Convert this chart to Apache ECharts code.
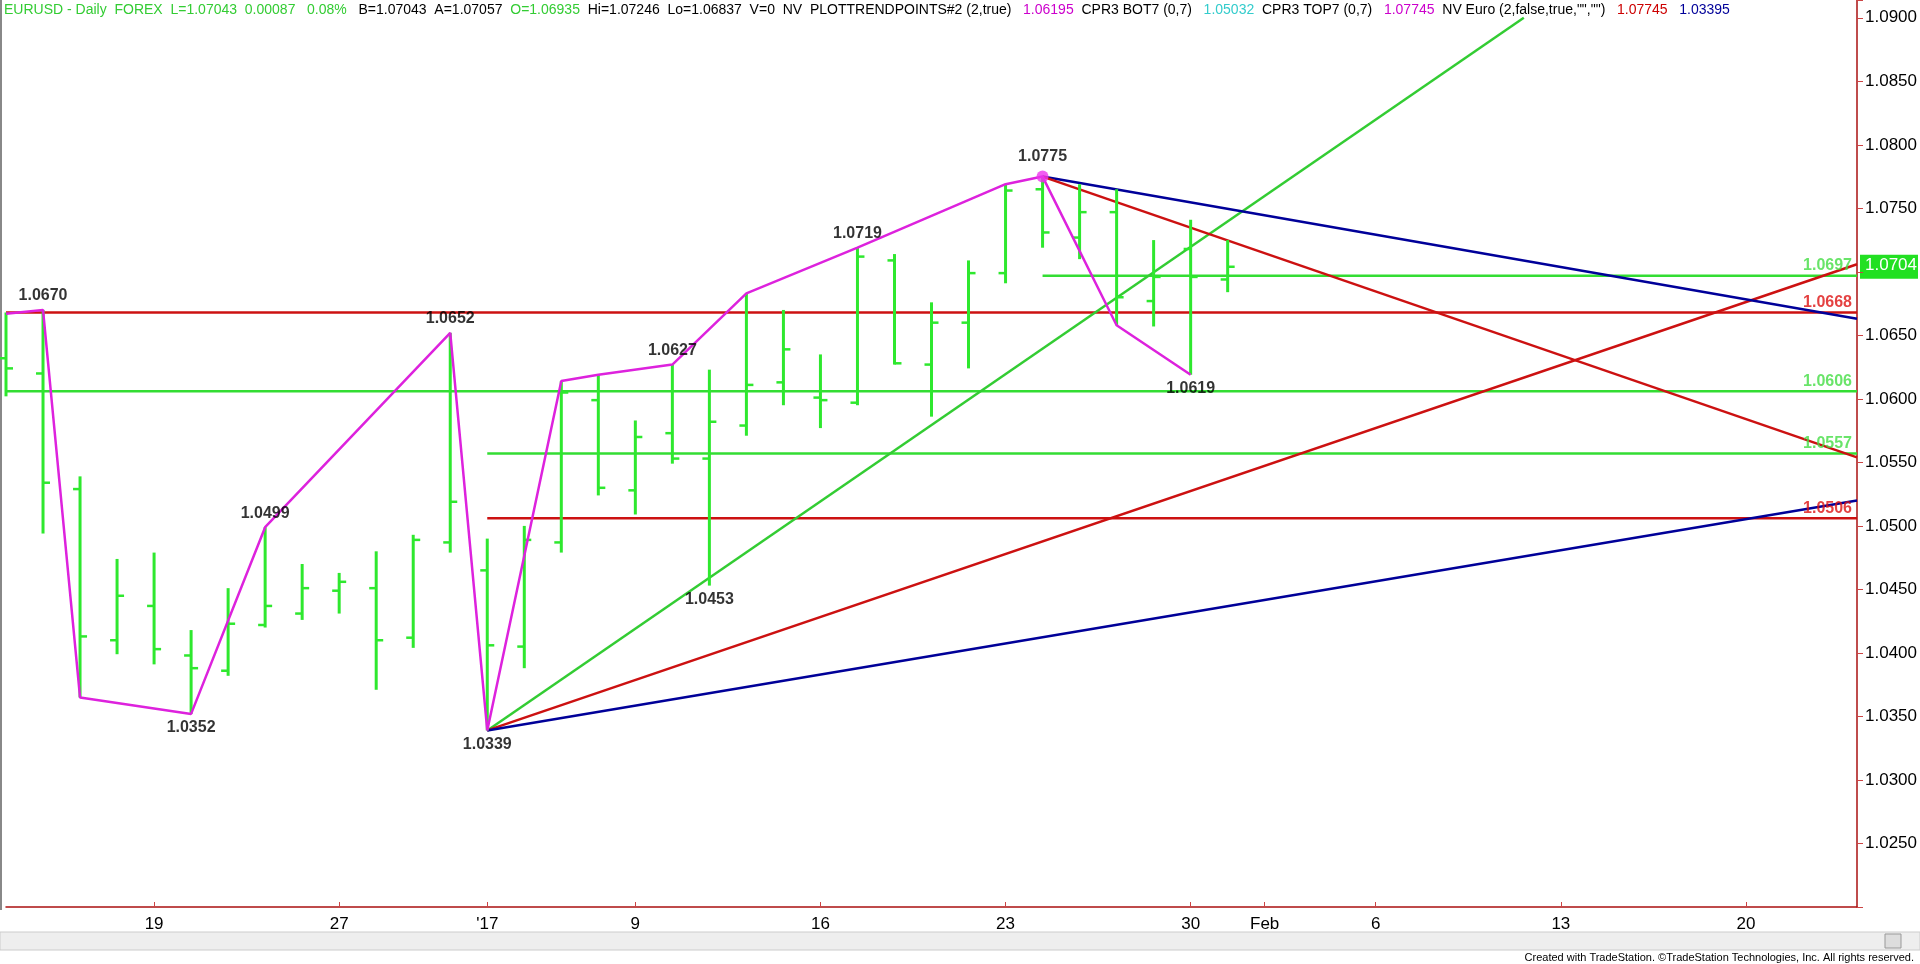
<!DOCTYPE html>
<html><head><meta charset="utf-8">
<script src="https://cdn.jsdelivr.net/npm/echarts@6/dist/echarts.min.js"></script>
<style>html,body{margin:0;padding:0;background:#fff}#c{width:1920px;height:964px}</style>
</head><body><div id="c"></div>
<script>
const dates = ['Dec 13','Dec 14','Dec 15','Dec 16','19','Dec 20','Dec 21','Dec 22','Dec 23','27','Dec 28','Dec 29','Dec 30',"'17",'Jan 4','Jan 5','Jan 6','9','Jan 10','Jan 11','Jan 12','Jan 13','16','Jan 17','Jan 18','Jan 19','Jan 20','23','Jan 24','Jan 25','Jan 26','Jan 27','30','Jan 31','Feb','Feb 2','Feb 3','6','Feb 7','Feb 8','Feb 9','Feb 10','13','Feb 14','Feb 15','Feb 16','Feb 17','20','Feb 21','Feb 22','Feb 23'];
const tickIdx = [4,9,13,17,22,27,32,34,37,42,47];
const opens  = [1.0632,1.0620,1.0529,1.0410,1.0437,1.0398,1.0386,1.0422,1.0431,1.0449,1.0451,1.0412,1.0487,1.0465,1.0405,1.0487,1.0599,1.0528,1.0573,1.0553,1.0579,1.0613,1.0601,1.0597,1.0709,1.0627,1.0660,1.0699,1.0765,1.0727,1.0747,1.0677,1.0718,1.0694];
const highs  = [1.0668,1.0670,1.0539,1.0474,1.0479,1.0418,1.0451,1.0499,1.0470,1.0463,1.0480,1.0493,1.0652,1.0490,1.0500,1.0614,1.0619,1.0583,1.0627,1.0623,1.0683,1.0670,1.0635,1.0719,1.0714,1.0676,1.0709,1.0769,1.0775,1.0769,1.0765,1.0725,1.0741,1.0725];
const lows   = [1.0602,1.0494,1.0365,1.0399,1.0391,1.0352,1.0382,1.0420,1.0426,1.0431,1.0371,1.0404,1.0479,1.0339,1.0388,1.0479,1.0524,1.0509,1.0549,1.0453,1.0571,1.0595,1.0577,1.0595,1.0627,1.0586,1.0624,1.0691,1.0719,1.0710,1.0658,1.0657,1.0619,1.0684];
const closes = [1.0624,1.0534,1.0413,1.0445,1.0403,1.0388,1.0423,1.0437,1.0451,1.0456,1.0410,1.0489,1.0519,1.0406,1.0489,1.0605,1.0530,1.0570,1.0553,1.0582,1.0611,1.0639,1.0599,1.0712,1.0628,1.0660,1.0699,1.0764,1.0731,1.0747,1.0680,1.0696,1.0696,1.0704];
const zigIdx = [0,1,2,5,7,12,13,15,16,18,20,23,27,28,30,32];
const zigVal = [1.0667,1.0670,1.0365,1.0352,1.0499,1.0652,1.0339,1.0614,1.0619,1.0627,1.0683,1.0719,1.0769,1.0775,1.0658,1.0619];
const pivotIdx = [1,5,7,12,13,18,19,23,28,32];
const pivotVal = [1.0670,1.0352,1.0499,1.0652,1.0339,1.0627,1.0453,1.0719,1.0775,1.0619];
const pivotUp  = [true,false,true,true,false,true,false,true,true,false];
const levelVal = [1.0697,1.0668,1.0606,1.0557,1.0506];
const levelStart=[28,0,0,13,13];
const levelColor=['#33dd33','#cc1111','#33dd33','#33dd33','#cc1111'];
const trendFrom=[[13,1.0339],[13,1.0339],[13,1.0339],[28,1.0775],[28,1.0775]];
const trendTo  =[[41,1.0900],[50,1.0706],[50,1.0520],[50,1.0663],[50,1.0554]];
const trendColor=['#33cc33','#cc1111','#000099','#000099','#cc1111'];
const lastPrice = 1.0704;
const endIdx = 50;

const GREEN='#2ee82e';
const ohlc = opens.map((o,i)=>[i,o,highs[i],lows[i],closes[i]]);
const series=[];
levelVal.forEach((v,k)=>series.push({type:'line',silent:true,symbol:'none',z:2,
  lineStyle:{color:levelColor[k],width:2.5},
  data:[[levelStart[k],v],[endIdx,v]]}));
series.push({type:'scatter',silent:true,z:8,symbolSize:0,
  data:levelVal.map((v,k)=>({value:[endIdx,v],label:{show:true,position:'left',align:'right',offset:[0,-10],
    formatter:v.toFixed(4),color:k===1||k===4?'#dd1111':'#44dd44',fontWeight:'bold',fontSize:16,fontFamily:'Liberation Sans'}}))});
trendFrom.forEach((f,k)=>series.push({type:'line',silent:true,symbol:'none',z:3,
  lineStyle:{color:trendColor[k],width:2.5},data:[f,trendTo[k]]}));
series.push({type:'custom',z:5,data:ohlc,renderItem:(p,api)=>{
  const x=api.coord([api.value(0),0])[0];
  const yo=api.coord([0,api.value(1)])[1],yh=api.coord([0,api.value(2)])[1],
        yl=api.coord([0,api.value(3)])[1],yc=api.coord([0,api.value(4)])[1];
  const st={stroke:GREEN,lineWidth:3};
  return {type:'group',children:[
    {type:'line',shape:{x1:x,y1:yh,x2:x,y2:yl},style:st},
    {type:'line',shape:{x1:x-7,y1:yo,x2:x,y2:yo},style:{stroke:GREEN,lineWidth:2.5}},
    {type:'line',shape:{x1:x,y1:yc,x2:x+7,y2:yc},style:{stroke:GREEN,lineWidth:2.5}}]};}});
series.push({type:'line',silent:true,z:6,symbol:'none',lineStyle:{color:'#dd22dd',width:2.5},
  data:zigIdx.map((x,i)=>[x,zigVal[i]])});
series.push({type:'scatter',z:7,silent:true,
  data:pivotIdx.map((x,i)=>({value:[x,pivotVal[i]],
    symbolSize:x===28?12:0,itemStyle:{color:'#ee33ee'},
    label:{show:true,formatter:pivotVal[i].toFixed(4),position:pivotUp[i]?'top':'bottom',distance:6,
      color:'#000',fontWeight:'bold',fontSize:16,fontFamily:'Liberation Sans'}}))});

const chart=echarts.init(document.getElementById('c'));
chart.setOption({animation:false,
  grid:{left:6,right:61,top:0,bottom:57},
  xAxis:{type:'category',data:dates,boundaryGap:false,
    axisLine:{lineStyle:{color:'#aa1111',width:1.5}},
    axisTick:{interval:(i)=>tickIdx.includes(i),length:5,inside:true,lineStyle:{color:'#cc4444'}},
    axisLabel:{interval:(i)=>tickIdx.includes(i),color:'#000',fontSize:17,margin:9,fontFamily:'Liberation Sans Narrow, Liberation Sans',
      formatter:(v)=>v.replace(/^(Dec|Jan|Feb) \d+$/,'')},
    splitLine:{show:false}},
  yAxis:{type:'value',position:'right',min:1.02,max:1.0914,interval:0.005,
    axisLine:{show:true,lineStyle:{color:'#aa1111',width:1.5}},
    axisTick:{show:true,length:6,lineStyle:{color:'#cc4444'}},
    axisLabel:{color:'#000',fontSize:17,margin:8,fontFamily:'Liberation Sans',
      formatter:(v)=>v<1.0225||v>1.0905||Math.abs(v-1.07)<1e-6?'':v.toFixed(4)},
    splitLine:{show:false}},
  series:series});

const yL=chart.convertToPixel({yAxisIndex:0},lastPrice);
const hdr=[['EURUSD - Daily  FOREX  L=1.07043  0.00087   0.08%   ','g'],['B=1.07043  A=1.07057  ','k'],['O=1.06935  ','g'],
 ['Hi=1.07246  Lo=1.06837  V=0  NV  PLOTTRENDPOINTS#2 (2,true)   ','k'],['1.06195  ','m'],['CPR3 BOT7 (0,7)   ','k'],['1.05032  ','c'],
 ['CPR3 TOP7 (0,7)   ','k'],['1.07745  ','m'],['NV Euro (2,false,true,"","")   ','k'],['1.07745   ','r'],['1.03395','b']];
chart.setOption({graphic:[
  {type:'rect',shape:{x:0,y:0,width:2,height:910},style:{fill:'#888'}},
  {type:'text',left:4,top:3,style:{text:hdr.map(h=>'{'+h[1]+'|'+h[0]+'}').join(''),
    rich:{g:{fill:'#33cc33'},k:{fill:'#000'},m:{fill:'#cc00cc'},c:{fill:'#33cccc'},r:{fill:'#cc0000'},b:{fill:'#000099'}},
    fontSize:14,fontFamily:'Liberation Sans Narrow, Liberation Sans'}},
  {type:'rect',shape:{x:1860,y:yL-12,width:58,height:24},style:{fill:'#22e022'}},
  {type:'text',x:1865,y:yL-10,style:{text:lastPrice.toFixed(4),fill:'#fff',fontSize:17,fontFamily:'Liberation Sans'}},
  {type:'rect',shape:{x:0,y:932,width:1920,height:18},style:{fill:'#eeeeee',stroke:'#ccc'}},
  {type:'rect',shape:{x:1885,y:934,width:16,height:14},style:{fill:'#ddd',stroke:'#999'}},
  {type:'text',right:6,bottom:1,style:{text:'Created with TradeStation. ©TradeStation Technologies, Inc. All rights reserved.',
    fill:'#000',fontSize:11,fontFamily:'Liberation Sans Narrow, Liberation Sans'}}
]});
</script></body></html>
